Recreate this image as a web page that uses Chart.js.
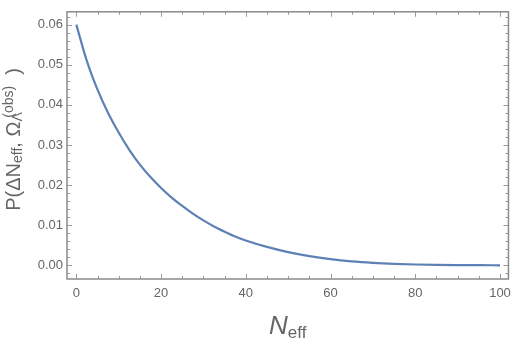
<!DOCTYPE html>
<html>
<head>
<meta charset="utf-8">
<script src="https://cdn.jsdelivr.net/npm/chart.js@4"></script>
<style>
  html, body { margin: 0; padding: 0; background: #fff; }
  #wrap { width: 518px; height: 342px; }
</style>
</head>
<body>
<div id="wrap"><canvas id="plot"></canvas></div>
<script>
// values
const nEff = [0, 2.5, 5, 7.5, 10, 12.5, 15, 17.5, 20, 22.5, 25, 27.5, 30, 32.5, 35, 37.5, 40,
              45, 50, 55, 60, 65, 70, 75, 80, 85, 90, 95, 100];
const prob = [0.0600, 0.0509, 0.0438, 0.0380, 0.0331, 0.0288, 0.0251, 0.0220, 0.0193, 0.0169,
              0.0148, 0.0129, 0.0112, 0.0097, 0.0084, 0.0072, 0.0062,
              0.0046, 0.0033, 0.0023, 0.00155, 0.0010, 0.00063, 0.00038, 0.00022, 0.00012,
              0.00007, 0.00004, 0.00002];
const xTicks = [0, 20, 40, 60, 80, 100];
const yTicks = [0, 0.01, 0.02, 0.03, 0.04, 0.05, 0.06];
const xMinorStep = 5;
const yMinorStep = 0.002;

const grey = '#666666';
const frameColor = '#8a8a8a';

const framePlugin = {
  id: 'frame',
  afterDraw(chart) {
    const ctx = chart.ctx;
    const a = chart.chartArea;
    const xs = chart.scales.x, ys = chart.scales.y;
    ctx.save();

    // ticks on all four sides, pointing inwards
    ctx.strokeStyle = '#9a9a9a';
    ctx.lineWidth = 1;
    ctx.beginPath();
    for (let v = 0; v <= 100.001; v += xMinorStep) {
      const px = Math.round(xs.getPixelForValue(v)) + 0.5;
      const len = xTicks.includes(Math.round(v)) ? 5 : 3;
      ctx.moveTo(px, a.bottom); ctx.lineTo(px, a.bottom - len);
      ctx.moveTo(px, a.top); ctx.lineTo(px, a.top + len);
    }
    for (let i = -1; i <= 31; i++) {
      const v = i * yMinorStep;
      const py = Math.round(ys.getPixelForValue(v)) + 0.5;
      if (py < a.top || py > a.bottom) continue;
      const len = i % 5 === 0 ? 5 : 3;
      ctx.moveTo(a.left, py); ctx.lineTo(a.left + len, py);
      ctx.moveTo(a.right, py); ctx.lineTo(a.right - len, py);
    }
    ctx.stroke();

    // frame
    ctx.strokeStyle = frameColor;
    ctx.lineWidth = 1.5;
    ctx.strokeRect(a.left, a.top, a.right - a.left, a.bottom - a.top);

    // x axis title: N_eff
    ctx.fillStyle = grey;
    ctx.textBaseline = 'alphabetic';
    ctx.textAlign = 'left';
    const bigN = 'italic 26px "Liberation Sans", Arial, sans-serif';
    const subX = '17px "Liberation Sans", Arial, sans-serif';
    ctx.font = bigN; const wN = ctx.measureText('N').width;
    ctx.font = subX; const wE = ctx.measureText('eff').width;
    const cx = (a.left + a.right) / 2;
    let x0 = cx - (wN + wE) / 2;
    ctx.font = bigN; ctx.fillText('N', x0, 334);
    ctx.font = subX; ctx.fillText('eff', x0 + wN, 337.5);

    // y axis title: P(ΔN_eff, Ω_Λ^(obs))
    const main = '20px "Liberation Sans", Arial, sans-serif';
    const small = '14px "Liberation Sans", Arial, sans-serif';
    const parts = [
      { t: 'P(ΔN', f: main, dy: 0 },
      { t: 'eff', f: small, dy: 2 },
      { t: ', Ω', f: main, dy: 0 },
      { t: 'Λ', f: small, dy: 2, stack: true },
      { t: ' (obs)', f: small, dy: -7 },
      { t: '  )', f: main, dy: 0 }
    ];
    let total = 0;
    const widths = parts.map(p => { ctx.font = p.f; return ctx.measureText(p.t).width; });
    for (let i = 0; i < parts.length; i++) {
      if (parts[i].stack) continue;
      total += widths[i];
    }
    ctx.translate(20, (a.top + a.bottom) / 2 - 6);
    ctx.rotate(-Math.PI / 2);
    let pos = -total / 2;
    for (let i = 0; i < parts.length; i++) {
      ctx.font = parts[i].f;
      ctx.fillText(parts[i].t, pos, parts[i].dy);
      if (!parts[i].stack) pos += widths[i];
    }
    ctx.restore();
  }
};

new Chart(document.getElementById('plot'), {
  type: 'scatter',
  data: {
    datasets: [{
      data: nEff.map((n, i) => ({ x: n, y: prob[i] })),
      showLine: true,
      borderColor: '#5e81b5',
      borderWidth: 2.2,
      pointRadius: 0,
      cubicInterpolationMode: 'monotone'
    }]
  },
  options: {
    responsive: true,
    maintainAspectRatio: false,
    animation: false,
    layout: { padding: { left: 0, top: 5, right: 8, bottom: 0 } },
    plugins: { legend: { display: false }, tooltip: { enabled: false } },
    scales: {
      x: {
        type: 'linear',
        min: -2.2,
        max: 102,
        afterBuildTicks: s => { s.ticks = xTicks.map(v => ({ value: v })); },
        afterFit: s => { s.height = 63; },
        grid: { display: false, drawTicks: false },
        border: { display: false },
        ticks: {
          color: grey,
          padding: 7,
          maxRotation: 0,
          font: { family: '"Liberation Sans", Arial, sans-serif', size: 13 },
          callback: v => String(v)
        }
      },
      y: {
        type: 'linear',
        min: -0.0034,
        max: 0.0632,
        afterBuildTicks: s => { s.ticks = yTicks.map(v => ({ value: v })); },
        afterFit: s => { s.width = 67; },
        grid: { display: false, drawTicks: false },
        border: { display: false },
        ticks: {
          color: grey,
          padding: 4,
          font: { family: '"Liberation Sans", Arial, sans-serif', size: 13 },
          callback: v => v.toFixed(2)
        }
      }
    }
  },
  plugins: [framePlugin]
});
</script>
</body>
</html>
